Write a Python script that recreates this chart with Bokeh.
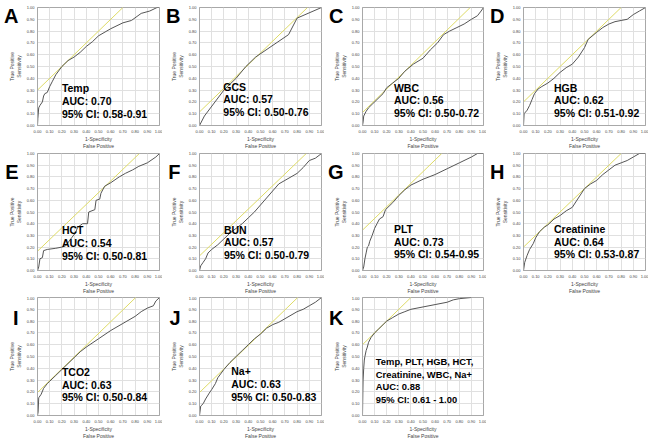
from bokeh.plotting import figure
from bokeh.layouts import gridplot
from bokeh.models import Range1d, FixedTicker, PrintfTickFormatter, Label, LinearAxis
from bokeh.embed import file_html
from bokeh.resources import INLINE

# ---------------- data ----------------
letters = ["A", "B", "C", "D", "E", "F", "G", "H", "I", "J", "K"]
names = ["Temp", "GCS", "WBC", "HGB", "HCT", "BUN", "PLT", "Creatinine", "TCO2", "Na+",
         "Temp, PLT, HGB, HCT,\nCreatinine, WBC, Na+"]
auc_values = ["0.70", "0.57", "0.56", "0.62", "0.54", "0.57", "0.73", "0.64", "0.63", "0.63", "0.88"]
ci_values = ["0.58-0.91", "0.50-0.76", "0.50-0.72", "0.51-0.92", "0.50-0.81", "0.50-0.79",
             "0.54-0.95", "0.53-0.87", "0.50-0.84", "0.50-0.83", "0.61 - 1.00"]
tangent_intercepts = [0.30, 0.115, 0.11, 0.20, 0.165, 0.125, 0.345, 0.20, 0.195, 0.195, 0.60]

fpr_temp = [0, 0.003, 0.01, 0.02, 0.04, 0.05, 0.06, 0.08, 0.10, 0.12, 0.15, 0.20, 0.25, 0.30, 0.35,
            0.40, 0.45, 0.50, 0.60, 0.70, 0.77, 0.85, 0.92, 0.98, 1.0]
tpr_temp = [0, 0.06, 0.15, 0.17, 0.20, 0.25, 0.27, 0.28, 0.33, 0.37, 0.43, 0.50, 0.55, 0.58, 0.62,
            0.67, 0.71, 0.76, 0.82, 0.87, 0.89, 0.95, 0.97, 1.0, 1.0]

fpr_gcs = [0, 0.04, 0.20, 0.30, 0.38, 0.46, 0.73, 0.80, 1.0]
tpr_gcs = [0, 0.08, 0.30, 0.40, 0.50, 0.58, 0.77, 0.91, 1.0]

fpr_wbc = [0, 0.005, 0.01, 0.03, 0.05, 0.08, 0.12, 0.17, 0.20, 0.25, 0.30, 0.35, 0.42, 0.50, 0.56,
           0.62, 0.67, 0.72, 0.78, 0.84, 0.90, 0.95, 0.98, 1.0]
tpr_wbc = [0, 0.03, 0.08, 0.12, 0.15, 0.18, 0.22, 0.27, 0.32, 0.36, 0.40, 0.46, 0.52, 0.57, 0.64,
           0.70, 0.77, 0.80, 0.83, 0.86, 0.90, 0.93, 0.97, 1.0]

fpr_hgb = [0, 0.005, 0.03, 0.05, 0.07, 0.09, 0.12, 0.15, 0.20, 0.25, 0.30, 0.35, 0.40, 0.45, 0.50,
           0.53, 0.60, 0.65, 0.70, 0.75, 0.80, 0.85, 0.90, 0.95, 1.0]
tpr_hgb = [0, 0.10, 0.13, 0.17, 0.22, 0.27, 0.31, 0.33, 0.36, 0.40, 0.45, 0.49, 0.52, 0.58, 0.66,
           0.73, 0.79, 0.83, 0.86, 0.88, 0.89, 0.90, 0.94, 0.97, 1.0]

fpr_hct = [0, 0.01, 0.02, 0.04, 0.05, 0.08, 0.15, 0.20, 0.23, 0.28, 0.31, 0.33, 0.37, 0.41, 0.42,
           0.47, 0.48, 0.51, 0.52, 0.55, 0.60, 0.67, 0.72, 0.78, 0.83, 0.90, 0.97, 1.0]
tpr_hct = [0, 0.03, 0.10, 0.11, 0.17, 0.18, 0.19, 0.20, 0.21, 0.28, 0.32, 0.37, 0.40, 0.40, 0.50,
           0.52, 0.60, 0.61, 0.66, 0.72, 0.75, 0.80, 0.83, 0.86, 0.89, 0.92, 0.97, 1.0]

fpr_bun = [0, 0.01, 0.03, 0.05, 0.07, 0.10, 0.15, 0.20, 0.25, 0.30, 0.35, 0.40, 0.45, 0.50, 0.55,
           0.60, 0.65, 0.70, 0.75, 0.80, 0.85, 0.90, 0.95, 1.0]
tpr_bun = [0, 0.04, 0.07, 0.10, 0.15, 0.18, 0.22, 0.27, 0.32, 0.36, 0.40, 0.45, 0.50, 0.56, 0.62,
           0.68, 0.74, 0.77, 0.80, 0.83, 0.88, 0.94, 0.96, 1.0]

fpr_plt = [0, 0.01, 0.02, 0.03, 0.04, 0.05, 0.06, 0.08, 0.10, 0.12, 0.14, 0.17, 0.19, 0.22, 0.25,
           0.30, 0.35, 0.40, 0.50, 0.60, 0.70, 0.80, 0.90, 0.95, 1.0]
tpr_plt = [0, 0.03, 0.10, 0.15, 0.20, 0.21, 0.25, 0.30, 0.36, 0.40, 0.44, 0.46, 0.52, 0.55, 0.58,
           0.64, 0.69, 0.73, 0.78, 0.82, 0.87, 0.92, 0.97, 1.0, 1.0]

fpr_cre = [0, 0.01, 0.03, 0.05, 0.08, 0.10, 0.13, 0.17, 0.20, 0.25, 0.30, 0.35, 0.40, 0.45, 0.50,
           0.55, 0.60, 0.65, 0.70, 0.75, 0.80, 0.85, 0.90, 0.95, 1.0]
tpr_cre = [0, 0.07, 0.13, 0.18, 0.23, 0.28, 0.33, 0.37, 0.39, 0.44, 0.47, 0.51, 0.54, 0.62, 0.70,
           0.74, 0.77, 0.82, 0.86, 0.90, 0.92, 0.94, 0.97, 1.0, 1.0]

fpr_tco2 = [0, 0.005, 0.01, 0.03, 0.05, 0.08, 0.10, 0.15, 0.20, 0.25, 0.30, 0.35, 0.40, 0.50, 0.60,
            0.70, 0.80, 0.85, 0.90, 0.95, 0.97, 1.0]
tpr_tco2 = [0, 0.03, 0.15, 0.18, 0.23, 0.27, 0.29, 0.34, 0.39, 0.44, 0.49, 0.54, 0.58, 0.65, 0.72,
            0.78, 0.84, 0.88, 0.91, 0.93, 0.97, 1.0]

fpr_na = [0, 0.01, 0.03, 0.05, 0.08, 0.10, 0.13, 0.15, 0.20, 0.25, 0.30, 0.35, 0.40, 0.45, 0.50,
          0.55, 0.60, 0.65, 0.70, 0.75, 0.80, 0.85, 0.90, 0.95, 1.0]
tpr_na = [0, 0.08, 0.10, 0.14, 0.19, 0.22, 0.27, 0.32, 0.39, 0.45, 0.50, 0.55, 0.60, 0.65, 0.69,
          0.74, 0.77, 0.79, 0.82, 0.85, 0.88, 0.90, 0.93, 0.96, 1.0]

fpr_comb = [0, 0.003, 0.005, 0.01, 0.015, 0.02, 0.03, 0.04, 0.05, 0.07, 0.10, 0.13, 0.17, 0.20,
            0.25, 0.30, 0.35, 0.40, 0.50, 0.60, 0.70, 0.75, 0.80, 0.90]
tpr_comb = [0, 0.20, 0.30, 0.40, 0.47, 0.50, 0.55, 0.58, 0.62, 0.66, 0.70, 0.73, 0.77, 0.80,
            0.83, 0.86, 0.88, 0.90, 0.92, 0.94, 0.96, 0.98, 0.99, 1.0]

fprs = [fpr_temp, fpr_gcs, fpr_wbc, fpr_hgb, fpr_hct, fpr_bun, fpr_plt, fpr_cre, fpr_tco2, fpr_na, fpr_comb]
tprs = [tpr_temp, tpr_gcs, tpr_wbc, tpr_hgb, tpr_hct, tpr_bun, tpr_plt, tpr_cre, tpr_tco2, tpr_na, tpr_comb]

tick_values = [0.0, 0.1, 0.2, 0.3, 0.4, 0.5, 0.6, 0.7, 0.8, 0.9, 1.0]

# ---------------- layout / style ----------------
text_pos = [(0.20, 0.315), (0.195, 0.33), (0.26, 0.32), (0.25, 0.32), (0.20, 0.343), (0.20, 0.35),
            (0.26, 0.353), (0.25, 0.353), (0.20, 0.369), (0.26, 0.377), (0.11, 0.46)]
left_border = 37
right_border = 3
frame_w = 122
row_top = [7, 2, 1]
row_frame_h = [120, 119, 120]
bottom_border = 24
LETTER_TICK = 1.0      # panel letter anchored at the top of each frame
FONT = "Liberation Sans"
CURVE = "#555555"
YELLOW = "#dedb66"


def make_panel(i):
    r, c = divmod(i, 4)
    w = left_border + frame_w + right_border
    h = row_top[r] + row_frame_h[r] + bottom_border
    p = figure(width=w, height=h, output_backend="svg", toolbar_location=None,
               x_range=Range1d(0, 1), y_range=Range1d(0, 1),
               min_border_left=left_border, min_border_right=right_border,
               min_border_top=row_top[r], min_border_bottom=bottom_border)
    p.background_fill_color = "white"
    p.border_fill_color = "white"
    p.outline_line_color = "#a8a8a8"
    p.outline_line_width = 1
    for ax in (p.xaxis[0], p.yaxis[0]):
        ax.ticker = FixedTicker(ticks=tick_values)
        ax.formatter = PrintfTickFormatter(format="%.2f")
        ax.major_label_text_font = FONT
        ax.major_label_text_font_size = "4px"
        ax.major_label_text_color = "#444444"
        ax.major_tick_in = 0
        ax.major_tick_out = 0
        ax.minor_tick_in = 0
        ax.minor_tick_out = 0
        ax.axis_line_color = "#a8a8a8"
        ax.axis_label_text_font = FONT
        ax.axis_label_text_font_size = "5px"
        ax.axis_label_text_font_style = "normal"
        ax.axis_label_text_color = "#444444"
    p.xaxis.major_label_standoff = 4
    p.xaxis.axis_label_standoff = 0
    p.yaxis.major_label_standoff = 3
    p.yaxis.axis_label_standoff = 2
    p.xaxis.axis_label = "1-Specificity\nFalse Positive"
    p.yaxis.axis_label = "True Positive\nSensitivity"
    p.xgrid.ticker = FixedTicker(ticks=tick_values)
    p.ygrid.ticker = FixedTicker(ticks=tick_values)
    p.xgrid.grid_line_color = "#e0e0e0"
    p.ygrid.grid_line_color = "#e0e0e0"

    # panel letter, drawn as the single tick label of an extra left axis
    letter_axis = LinearAxis(ticker=FixedTicker(ticks=[LETTER_TICK]),
                             major_label_overrides={LETTER_TICK: letters[i]},
                             axis_line_color=None, major_tick_in=0, major_tick_out=0,
                             minor_tick_in=0, minor_tick_out=0,
                             major_label_standoff=-13,
                             major_label_text_font=FONT, major_label_text_font_size="20px",
                             major_label_text_font_style="bold", major_label_text_color="black")
    p.add_layout(letter_axis, "left")

    b = tangent_intercepts[i]
    p.segment(x0=[0], y0=[b], x1=[1 - b], y1=[1], line_color=YELLOW, line_width=1)
    p.line(fprs[i], tprs[i], line_color=CURVE, line_width=1)

    lines = names[i].split("\n") + ["AUC: " + auc_values[i], "95% CI: " + ci_values[i]]
    tx, ty = text_pos[i]
    size = "9.4px" if i == 10 else "10.5px"
    step = 0.109 if i == 10 else 0.108
    for k, t in enumerate(lines):
        p.add_layout(Label(x=tx, y=ty - k * step, text=t, text_font=FONT,
                           text_font_size=size, text_font_style="bold",
                           text_color="black", text_baseline="middle", text_align="left"))
    return p


panels = [make_panel(i) for i in range(11)]
grid = gridplot([panels[0:4], panels[4:8], panels[8:11] + [None]], toolbar_location=None)

open("out.html", "w").write(file_html(grid, INLINE))
